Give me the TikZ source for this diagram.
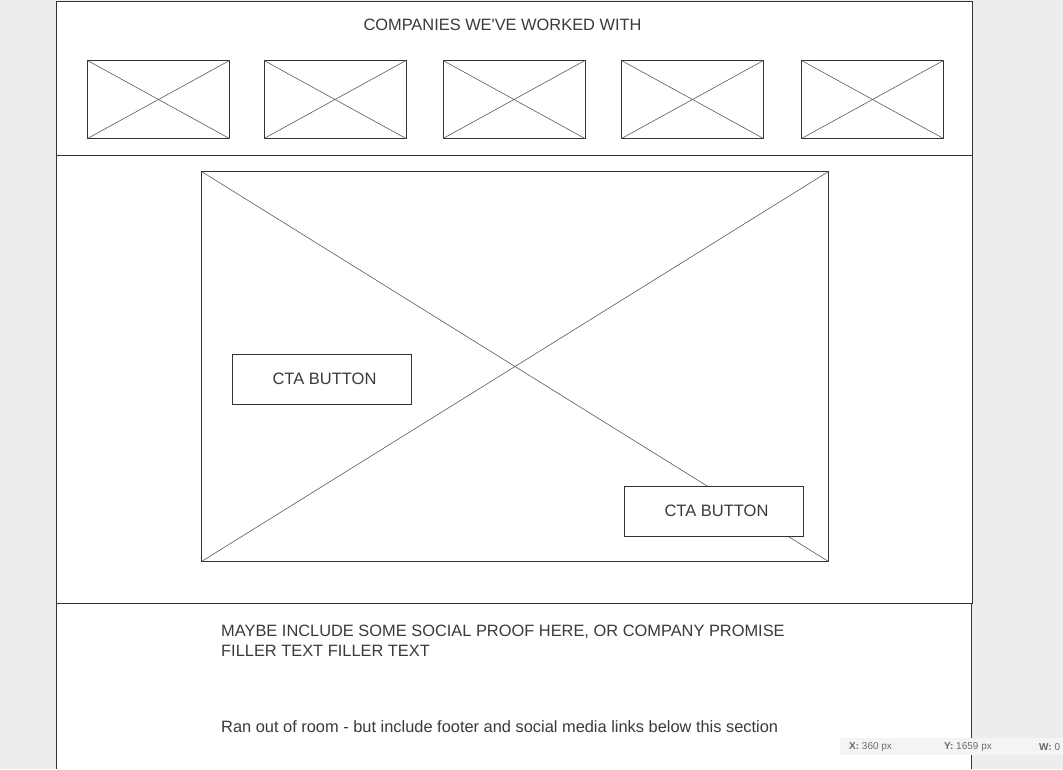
\documentclass[tikz,border=0pt]{standalone}
\usepackage{fontspec}
\setmainfont{Liberation Sans}
\usepackage{tikz}
\usetikzlibrary{positioning}

\definecolor{canvas}{HTML}{EDEDED}
\definecolor{edge}{HTML}{333333}
\definecolor{crossline}{HTML}{5A5A5A}
\definecolor{ink}{HTML}{3A3A3A}
\definecolor{barfill}{HTML}{F4F4F4}
\definecolor{barink}{HTML}{6A6A6A}

\begin{document}
\begin{tikzpicture}[x=1pt,y=-1pt,
	section/.style={draw=edge, line width=1pt, fill=white, inner sep=0pt, outer sep=0pt, minimum width=916},
	imgbox/.style={draw=edge, line width=1pt, fill=white, inner sep=0pt, outer sep=0pt},
	cross/.style={draw=crossline, line width=0.6pt},
	button/.style={draw=edge, line width=0.8pt, fill=white, inner sep=0pt, minimum width=179, minimum height=50, text=ink, font=\fontsize{16.5}{19.5}\selectfont},
	label/.style={text=ink, inner sep=0pt, font=\fontsize{16.4}{19.5}\selectfont},
	barlabel/.style={text=barink, inner sep=0pt, anchor=west, font=\fontsize{10}{12}\selectfont}]
			\useasboundingbox (0,0) rectangle (1063,769);
			\fill[canvas] (0,0) rectangle (1063,769);
			\fill[white] (56,1) rectangle (972,769);

			% sections
			\node[section, minimum height=154] (companies) at (514,78) {};
			\node[section, minimum height=448] (hero) at (514,379) {};
			\draw[edge, line width=1pt] (hero.south west) to (56,769);
			\draw[edge, line width=1pt] (971,603) to (971,769);

			\node[label] (title) at (502.5,25) {COMPANIES WE\textquotesingle VE WORKED WITH};

			% logos
			\node[imgbox, minimum width=142, minimum height=78] (logo1) at (158.5,99.5) {};
			\node[imgbox, minimum width=142, minimum height=78] (logo2) at (335,99.5) {};
			\node[imgbox, minimum width=142, minimum height=78] (logo3) at (514,99.5) {};
			\node[imgbox, minimum width=142, minimum height=78] (logo4) at (692.5,99.5) {};
			\node[imgbox, minimum width=142, minimum height=78] (logo5) at (872.5,99.5) {};
			\draw [cross] (logo1.north west) to (logo1.south east);
			\draw [cross] (logo1.south west) to (logo1.north east);
			\draw [cross] (logo2.north west) to (logo2.south east);
			\draw [cross] (logo2.south west) to (logo2.north east);
			\draw [cross] (logo3.north west) to (logo3.south east);
			\draw [cross] (logo3.south west) to (logo3.north east);
			\draw [cross] (logo4.north west) to (logo4.south east);
			\draw [cross] (logo4.south west) to (logo4.north east);
			\draw [cross] (logo5.north west) to (logo5.south east);
			\draw [cross] (logo5.south west) to (logo5.north east);

			% hero image
			\node[imgbox, line width=0.8pt, minimum width=627, minimum height=390] (heroimg) at (515,366.5) {};
			\draw [cross] (heroimg.north west) to (heroimg.south east);
			\draw [cross] (heroimg.south west) to (heroimg.north east);

			\node[button] (cta1) at (321.5,379) {\hspace{6pt}CTA BUTTON};
			\node[button] (cta2) at (713.5,511) {\hspace{6pt}CTA BUTTON};

			% social proof
			\node[label, anchor=north west, align=left] (proof) at (221,625) {MAYBE INCLUDE SOME SOCIAL PROOF HERE, OR COMPANY PROMISE\\FILLER TEXT FILLER TEXT};
			\node[label, anchor=west] (roomnote) at (221,726.5) {Ran out of room - but include footer and social media links below this section};

			% status bar
			\fill[barfill] (840,738) rectangle (1063,755);
			\node[barlabel] (barx) at (849,747) {\textbf{X:} 360 px};
			\node[barlabel] (bary) at (944,747) {\textbf{Y:} 1659 px};
			\node[barlabel] (barw) at (1039,747) {\textbf{W:} 0};
		\end{tikzpicture}
\end{document}
